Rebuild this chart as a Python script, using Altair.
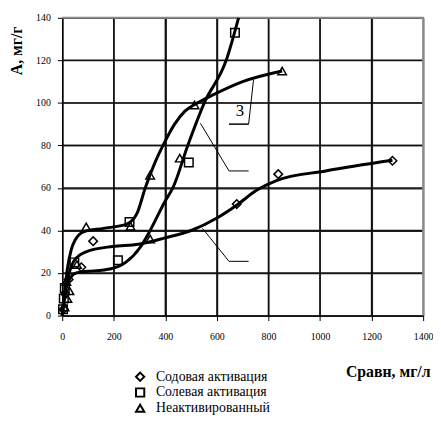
import altair as alt
import pandas as pd

S1 = "Содовая активация"
S2 = "Солевая активация"
S3 = "Неактивированный"

# measured points
soda_x = [5, 12, 25, 74, 120, 677, 838, 1281]
soda_y = [3, 10, 17, 22.7, 35, 52.4, 66.5, 72.8]
salt_x = [3, 6, 10, 47, 216, 261, 491, 670]
salt_y = [3, 8, 13, 25, 26, 44, 72, 133]
inact_x = [9, 20, 28, 16, 57, 93, 265, 341, 341, 456, 513, 853]
inact_y = [4, 8, 11.6, 16, 24, 41.7, 42, 36, 66, 74, 99, 115]

# fitted curves
soda_cx = [0, 10, 25, 47, 92, 195, 296, 398, 500, 602, 678, 755, 831, 1022, 1281]
soda_cy = [0, 10, 19, 26, 30, 32.5, 33.5, 36.5, 40, 46, 52, 59, 63.5, 68, 73]
salt_cx = [0, 10, 25, 45, 70, 100, 190, 246, 302, 341, 400, 429, 487, 551, 636, 684]
salt_cy = [0, 10, 16, 19.5, 20.5, 20.8, 22, 25, 32, 40, 54, 60, 80, 100, 120, 140]
inact_cx = [0, 10, 20, 35, 50, 85, 160, 250, 290, 322, 360, 391, 436, 475, 525, 589, 700, 853]
inact_cy = [0, 12, 22, 31, 35.5, 39.5, 41, 43, 48, 60, 72, 80, 90, 96, 100, 104, 110, 115]

# annotation leaders (data coords)
lead_x = [742.0, 647.0, 536.0, 544.0, 647.0, 647.0, 647.0]
lead_y = [110.8, 90.0, 90.4, 41.0, 90.0, 68.0, 25.5]
lead_x2 = [723.0, 723.0, 647.0, 647.0, 723.0, 723.0, 723.0]
lead_y2 = [90.0, 90.0, 68.0, 25.5, 90.0, 68.0, 25.5]

x_ticks = list(range(0, 1401, 200))
y_ticks = list(range(0, 141, 20))

pts = pd.DataFrame(
    [{"x": a, "y": b, "s": S1} for a, b in zip(soda_x, soda_y)]
    + [{"x": a, "y": b, "s": S2} for a, b in zip(salt_x, salt_y)]
    + [{"x": a, "y": b, "s": S3} for a, b in zip(inact_x, inact_y)]
)
curves = pd.DataFrame(
    [{"x": a, "y": b, "s": S1} for a, b in zip(soda_cx, soda_cy)]
    + [{"x": a, "y": b, "s": S2} for a, b in zip(salt_cx, salt_cy)]
    + [{"x": a, "y": b, "s": S3} for a, b in zip(inact_cx, inact_cy)]
)
leads = pd.DataFrame({"x": lead_x, "y": lead_y, "x2": lead_x2, "y2": lead_y2})

xmin, xmax = float(x_ticks[0]), float(x_ticks[-1])
ymin, ymax = float(y_ticks[0]), float(y_ticks[-1])

# grid drawn as polylines through the tick values
gl = []
k = 0
for v in x_ticks[1:-1]:
    gl.append({"x": float(v), "y": ymin, "g": k}); gl.append({"x": float(v), "y": ymax, "g": k}); k += 1
for v in y_ticks[1:-1]:
    gl.append({"x": xmin, "y": float(v), "g": k}); gl.append({"x": xmax, "y": float(v), "g": k}); k += 1
grid = pd.DataFrame(gl)
frame = pd.DataFrame([{"x": xmin, "y": ymax}, {"x": xmax, "y": ymax}, {"x": xmax, "y": ymin}])

FONT = "Liberation Serif"
xs = alt.Scale(domain=[xmin, xmax], nice=False)
ys = alt.Scale(domain=[ymin, ymax], nice=False)

xax = alt.Axis(values=x_ticks, format="d", title="Сравн, мг/л", grid=True,
               titleAlign="right", titleAnchor="end", titleX=373, titleY=62,
               titleBaseline="alphabetic", labelPadding=11, tickSize=5,
               labelFont=FONT, labelFontSize=10, labelColor="black", labelFlush=False)
yax = alt.Axis(values=y_ticks, format="d", title="А, мг/г", grid=True,
               titleAngle=-90, titleAlign="center", titleX=-46, titleY=33,
               titleBaseline="middle", labelPadding=7, tickSize=5,
               labelFont=FONT, labelFontSize=10, labelColor="black", labelFlush=False)

X = alt.X("x:Q", scale=xs, axis=xax)
Y = alt.Y("y:Q", scale=ys, axis=yax)

grid_layer = alt.Chart(grid).mark_line(color="#111111", strokeWidth=1.5).encode(
    x=X, y=Y, detail="g:N")

frame_layer = alt.Chart(frame).mark_line(color="#8a8a8a", strokeWidth=2).encode(
    x=X, y=Y, order=alt.Order("x:Q"))

lead_layer = alt.Chart(leads).mark_rule(color="black", strokeWidth=1).encode(
    x=X, x2="x2", y=Y, y2="y2")

line_layer = alt.Chart(curves).mark_line(color="black", strokeWidth=3,
                                         interpolate="monotone").encode(
    x=X, y=Y, detail="s:N")

shape_scale = alt.Scale(domain=[S1, S2, S3], range=["diamond", "square", "triangle-up"])
pt_layer = alt.Chart(pts).mark_point(color="black", filled=False, strokeWidth=1.5,
                                     size=75, opacity=1).encode(
    x=X, y=Y,
    shape=alt.Shape("s:N", scale=shape_scale, sort=[S1, S2, S3],
                    legend=alt.Legend(title=None, orient="none", legendX=72, legendY=357,
                                      labelFont=FONT, labelFontSize=14, labelColor="black",
                                      symbolStrokeColor="black", symbolStrokeWidth=2,
                                      symbolSize=70, symbolFillColor="white",
                                      rowPadding=-2, labelOffset=9, padding=0)))

lab_text = alt.Chart(pd.DataFrame({"x": [689.0], "y": [96.0], "t": ["3"]})).mark_text(
    font=FONT, fontSize=17, color="black").encode(
    x=X, y=Y, text="t:N")

chart = alt.layer(grid_layer, frame_layer, lead_layer, line_layer, pt_layer, lab_text).properties(
    width=366, height=302,
    autosize=alt.AutoSizeParams(type="none"),
    padding={"left": 55, "top": 7, "right": 10, "bottom": 105},
).configure(font=FONT).configure_axis(
    domainColor="black", domainWidth=1.5, tickColor="black",
    gridColor="#222222", gridWidth=1.4, gridOpacity=1,
    titleFont=FONT, titleFontSize=16, titleFontWeight="bold", titleColor="black",
).configure_legend(labelFont=FONT)

chart.save("out.html", embed_options={"renderer": "svg", "actions": False})
